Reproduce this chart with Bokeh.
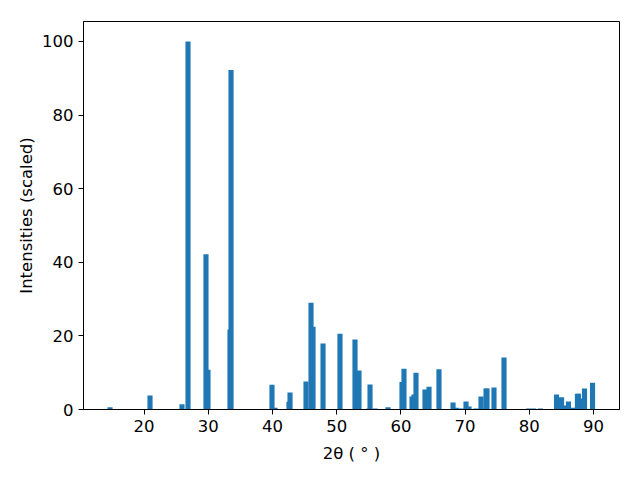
from bokeh.plotting import figure
from bokeh.embed import file_html
from bokeh.resources import INLINE
from bokeh.models import Range1d, FixedTicker

# 2-theta peak positions (degrees) and scaled intensities
two_theta = [14.69, 20.92, 25.90, 26.84, 29.64, 29.95, 33.38, 33.54,
             39.92, 40.39, 42.57, 42.73, 45.22, 46.00, 46.31, 47.87,
             50.51, 52.85, 53.47, 55.03, 55.19, 55.97, 57.99,
             60.17, 60.48, 61.73, 62.04, 62.35, 63.75, 64.38, 65.93,
             68.12, 68.60, 68.90, 69.60, 70.14, 70.61, 71.70, 72.48,
             73.26, 73.41, 74.50, 76.06,
             79.88, 80.65, 81.74, 84.24, 85.02, 85.79, 86.10, 86.73,
             87.50, 87.66, 88.40, 88.60, 89.85]
intensity = [0.6, 3.8, 1.4, 100.0, 42.2, 10.8, 21.7, 92.2,
             6.7, 0.5, 2.1, 4.6, 7.6, 29.0, 22.5, 17.9,
             20.6, 19.0, 10.6, 0.3, 6.8, 0.3, 0.6,
             7.5, 11.1, 3.5, 4.1, 10.0, 5.4, 6.2, 10.9,
             1.9, 0.5, 0.3, 0.3, 2.2, 0.8, 0.3, 3.5,
             5.7, 5.7, 6.0, 14.1,
             0.3, 0.3, 0.3, 4.1, 3.3, 1.1, 2.2, 0.5,
             4.3, 4.3, 3.0, 5.7, 7.3]

x_ticks = [20, 30, 40, 50, 60, 70, 80, 90]
y_ticks = [0, 20, 40, 60, 80, 100]

FONT = "DejaVu Sans"
FS = "16.5px"

p = figure(width=640, height=480, output_backend="svg", toolbar_location=None,
           x_range=Range1d(10.56, 94.05), y_range=Range1d(0, 105.4),
           min_border_left=83, min_border_right=21, min_border_top=21,
           min_border_bottom=71)

p.vbar(x=two_theta, top=intensity, width=0.8, bottom=0,
       fill_color="#1f77b4", line_color=None)

p.xgrid.visible = False
p.ygrid.visible = False
p.outline_line_color = "black"
p.outline_line_width = 1
p.background_fill_color = "white"
p.border_fill_color = "white"

for ax in (p.xaxis[0], p.yaxis[0]):
    ax.major_label_text_font = FONT
    ax.major_label_text_font_size = FS
    ax.major_label_text_color = "black"
    ax.axis_label_text_font = FONT
    ax.axis_label_text_font_size = FS
    ax.axis_label_text_font_style = "normal"
    ax.axis_label_text_color = "black"
    ax.major_tick_in = 0
    ax.major_tick_out = 5
    ax.minor_tick_in = 0
    ax.minor_tick_out = 0
    ax.major_tick_line_color = "black"
    ax.axis_line_color = "black"
    ax.major_label_standoff = 5

p.xaxis.axis_label_standoff = 9
p.yaxis.axis_label_standoff = 3
p.xaxis.ticker = FixedTicker(ticks=x_ticks)
p.yaxis.ticker = FixedTicker(ticks=y_ticks)
p.xaxis.axis_label = "2θ ( ° )"
p.yaxis.axis_label = "Intensities (scaled)"

open("out.html", "w").write(file_html(p, INLINE))
